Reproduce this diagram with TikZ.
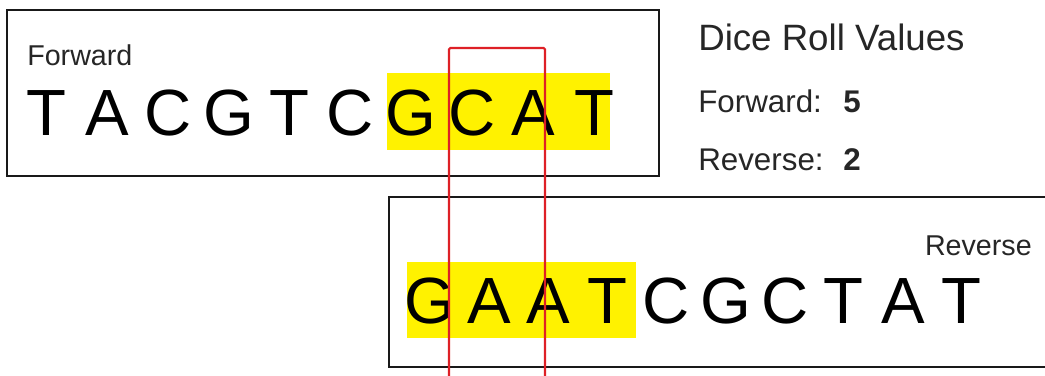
\documentclass[tikz,border=0pt]{standalone}
\usepackage{fontspec}
\setmainfont{Liberation Sans}
\definecolor{winred}{RGB}{222,32,38}

\begin{document}
\begin{tikzpicture}[x=0.75pt, y=-0.75pt,
    every node/.style = {inner sep=0pt, anchor=base},
    base/.style = {font=\fontsize{49}{49}\selectfont},
    lbl/.style = {font=\fontsize{21.5}{21.5}\selectfont, text=black!85},
    info/.style = {font=\fontsize{23.5}{23.5}\selectfont, text=black!85, anchor=base west},
    seqbox/.style = {draw=black!90, line width=2.2pt},
    hilite/.style = {fill=yellow},
    window/.style = {draw=winred, line width=1.6pt, rounded corners=1pt}]
    \clip (0,0) rectangle (1045,375);
    \fill[white] (0,0) rectangle (1045,375);
    \fill[hilite] (387,73) rectangle (610,150);
    \fill[hilite] (407,262) rectangle (636,338);
    \draw[seqbox] (7,10) rectangle (659,176);
    \draw[seqbox] (389,197) rectangle (1070,367);
    \node[lbl, anchor=base west] (fwdlbl) at (27,65) {Forward};
    \node[lbl, anchor=base east] (revlbl) at (1032,255) {Reverse};
    \foreach \ch [count=\i from 0] in {T,A,C,G,T,C,G,C,A,T}
        \node[base] (f\i) at ({46+60.9*\i},135) {\ch};
    \foreach \ch [count=\i from 0] in {G,A,A,T,C,G,C,T,A,T}
        \node[base] (r\i) at ({430+59.1*\i},323) {\ch};
    \draw[window] (449,48) rectangle (545,400);
    \node[info, font=\fontsize{27.5}{27.5}\selectfont] (dice) at (698,50) {Dice Roll Values};
    \node[info] (fwdtxt) at (698,112) {Forward:};
    \node[info] (fwdval) at (843,112) {\textbf{5}};
    \node[info] (revtxt) at (698,170) {Reverse:};
    \node[info] (revval) at (843,170) {\textbf{2}};
\end{tikzpicture}
\end{document}
